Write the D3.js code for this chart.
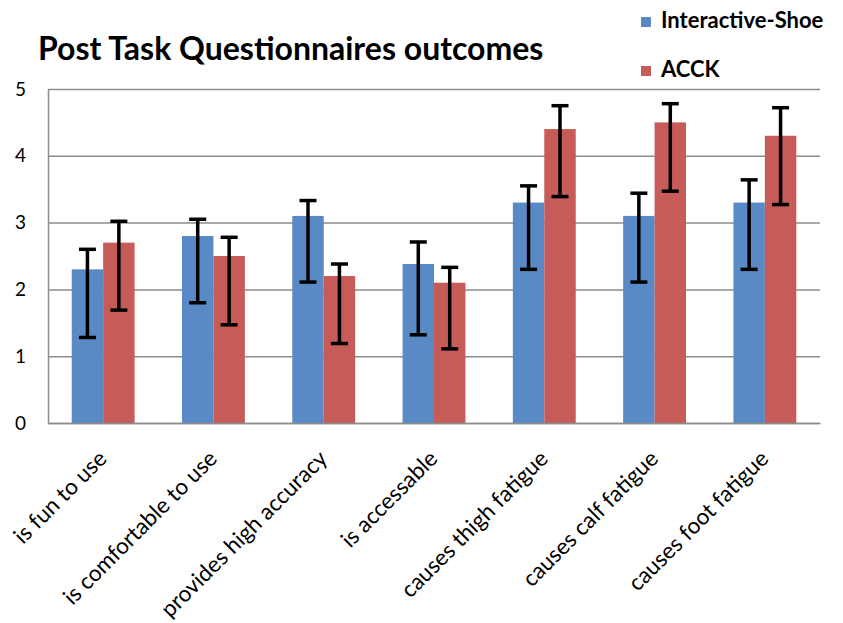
<!DOCTYPE html>
<html>
<head>
<meta charset="utf-8">
<script src="https://cdn.jsdelivr.net/npm/d3@7"></script>
<style>
  body { margin: 0; background: #fff; }
  svg text { font-family: Lato, "Open Sans", sans-serif; fill: #000; }
</style>
</head>
<body>
<div id="chart"></div>
<script>
var categories = ["is fun to use", "is comfortable to use", "provides high accuracy", "is accessable",
                  "causes thigh fatigue", "causes calf fatigue", "causes foot fatigue"];
var seriesNames = ["Interactive-Shoe", "ACCK"];
var shoeValues = [2.3, 2.8, 3.1, 2.38, 3.3, 3.1, 3.3];
var shoeErrUp = [0.3, 0.25, 0.23, 0.33, 0.25, 0.34, 0.34];
var shoeErrDown = [1.02, 1.0, 0.99, 1.06, 1.0, 0.99, 1.0];
var acckValues = [2.7, 2.5, 2.2, 2.1, 4.4, 4.5, 4.3];
var acckErrUp = [0.32, 0.28, 0.18, 0.23, 0.35, 0.28, 0.42];
var acckErrDown = [1.01, 1.03, 1.01, 0.99, 1.01, 1.03, 1.03];
var yTicks = [0, 1, 2, 3, 4, 5];

var colors = ["#5A8AC6", "#C65B58"];

var width = 843, height = 623;
var margin = {left: 48, right: 23, top: 89, bottom: 200};
var plotW = width - margin.left - margin.right;
var plotH = height - margin.top - margin.bottom;

var series = [
    {name: seriesNames[0], values: shoeValues, up: shoeErrUp, down: shoeErrDown},
    {name: seriesNames[1], values: acckValues, up: acckErrUp, down: acckErrDown}
];

var svg = d3.select("#chart").append("svg")
    .attr("width", width)
    .attr("height", height);

var g = svg.append("g")
    .attr("transform", "translate(" + margin.left + "," + margin.top + ")");

var x = d3.scaleBand()
    .domain(categories)
    .range([0, plotW])
    .paddingInner(0.43)
    .paddingOuter(0.215);

var x1 = d3.scaleBand()
    .domain(seriesNames)
    .range([0, x.bandwidth()]);

var y = d3.scaleLinear()
    .domain([0, 5])
    .range([plotH, 0]);

// gridlines
g.append("g")
    .attr("class", "grid")
    .call(d3.axisLeft(y).tickValues(yTicks).tickSize(-plotW).tickFormat(""))
    .call(function (s) {
        s.select(".domain").remove();
        s.selectAll("line").attr("stroke", "#8c8c8c").attr("stroke-width", 1.5);
    });

// bars
var groups = g.selectAll(".series")
    .data(series)
    .enter()
    .append("g")
    .attr("class", "series")
    .attr("fill", function (d, i) { return colors[i]; });

groups.selectAll("rect")
    .data(function (s) { return s.values.map(function (v, i) { return {s: s, v: v, i: i}; }); })
    .enter()
    .append("rect")
    .attr("x", function (d) { return x(categories[d.i]) + x1(d.s.name); })
    .attr("y", function (d) { return y(d.v); })
    .attr("width", x1.bandwidth())
    .attr("height", function (d) { return plotH - y(d.v); });

// axes lines
g.append("g")
    .call(d3.axisLeft(y).tickValues(yTicks).tickSize(0).tickPadding(22).tickFormat(d3.format("d")))
    .call(function (s) {
        s.select(".domain").attr("stroke", "#8c8c8c").attr("stroke-width", 1.5);
        s.selectAll("text").attr("font-size", 19).attr("fill", "#000");
    });

g.append("g")
    .attr("transform", "translate(0," + plotH + ")")
    .call(d3.axisBottom(x).tickSize(0).tickFormat(""))
    .call(function (s) {
        s.select(".domain").attr("stroke", "#8c8c8c").attr("stroke-width", 1.5);
    });

// error bars
var capW = 17;
var errs = g.selectAll(".err")
    .data(series.flatMap(function (s) {
        return s.values.map(function (v, i) { return {s: s, v: v, i: i}; });
    }))
    .enter()
    .append("g")
    .attr("class", "err")
    .attr("stroke", "#000")
    .attr("stroke-width", 3.5);

function cx(d) { return x(categories[d.i]) + x1(d.s.name) + x1.bandwidth() / 2; }

errs.append("line")
    .attr("x1", cx).attr("x2", cx)
    .attr("y1", function (d) { return y(d.v + d.s.up[d.i]); })
    .attr("y2", function (d) { return y(d.v - d.s.down[d.i]); });
errs.append("line")
    .attr("x1", function (d) { return cx(d) - capW / 2; })
    .attr("x2", function (d) { return cx(d) + capW / 2; })
    .attr("y1", function (d) { return y(d.v + d.s.up[d.i]); })
    .attr("y2", function (d) { return y(d.v + d.s.up[d.i]); });
errs.append("line")
    .attr("x1", function (d) { return cx(d) - capW / 2; })
    .attr("x2", function (d) { return cx(d) + capW / 2; })
    .attr("y1", function (d) { return y(d.v - d.s.down[d.i]); })
    .attr("y2", function (d) { return y(d.v - d.s.down[d.i]); });

// category labels
g.selectAll(".cat")
    .data(categories)
    .enter()
    .append("text")
    .attr("class", "cat")
    .attr("text-anchor", "end")
    .attr("font-size", 22.5)
    .attr("transform", function (d) {
        return "translate(" + (x(d) + x.bandwidth() / 2 + 5) + "," + (plotH + 37) + ") rotate(-45)";
    })
    .text(function (d) { return d; });

// title
svg.append("text")
    .attr("x", 38)
    .attr("y", 60)
    .attr("font-size", 32)
    .attr("font-weight", "bold")
    .text("Post Task Questionnaires outcomes");

// legend
var legend = svg.selectAll(".legend")
    .data(seriesNames)
    .enter()
    .append("g")
    .attr("class", "legend")
    .attr("transform", function (d, i) { return "translate(641," + (17 + i * 49) + ")"; });

legend.append("rect")
    .attr("width", 10).attr("height", 10)
    .attr("fill", function (d, i) { return colors[i]; });

legend.append("text")
    .attr("x", 20)
    .attr("y", 11)
    .attr("font-size", 22)
    .attr("font-weight", "bold")
    .text(function (d) { return d; });
</script>
</body>
</html>
